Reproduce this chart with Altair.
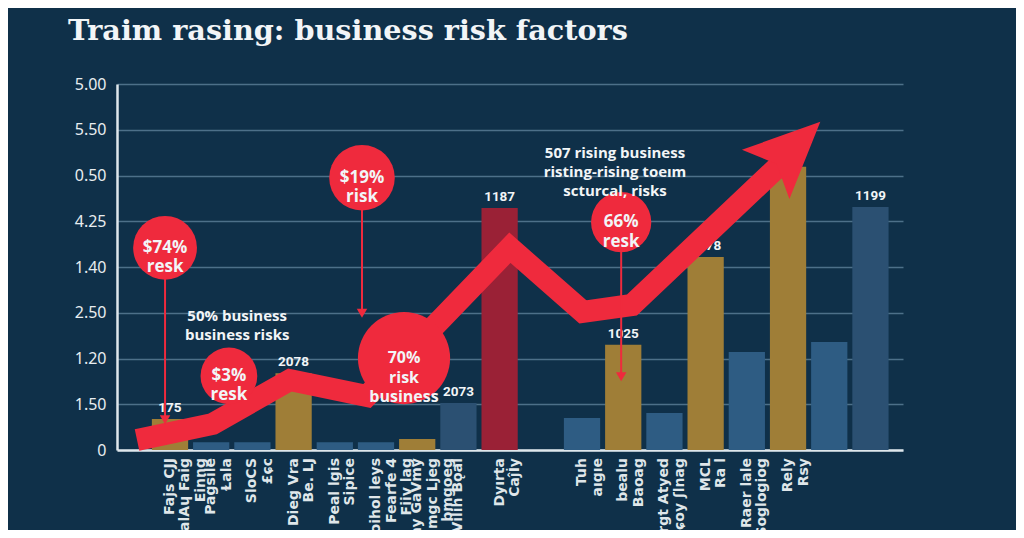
import json
import altair as alt
import pandas as pd

TITLE = "Traim rasing: business risk factors"

# y-axis tick labels, bottom to top, as printed on the chart
y_tick_labels = ["0", "1.50", "1.20", "2.50", "1.40", "4.25", "0.50", "5.50", "5.00"]

# bars: category slot along x, height (in gridline units), colour group, value label
bar_slot = [0, 1, 2, 3, 4, 5, 6, 7, 8, 10, 11, 12, 13, 14, 15, 16, 17]
bar_value = [0.68, 0.17, 0.17, 1.68, 0.17, 0.17, 0.24, 1.03, 5.29,
             0.70, 2.30, 0.81, 4.22, 2.14, 6.19, 2.36, 5.31]
bar_kind = ["gold", "blue", "blue", "gold", "blue", "blue", "gold", "navy", "red",
            "blue", "gold", "blue", "gold", "blue", "gold", "blue", "navy"]
bar_text = ["175", "", "", "2078", "", "", "", "2073", "1187",
            "", "1025", "", "1078", "", "", "", "1199"]

# category labels under the x axis
x_slot = [0, 1, 2, 3, 4, 5, 6, 7, 8, 10, 11, 12, 13, 14, 15]
x_label = [
    "Fajs CJJ\nBalAɥ Faig\nEinng",
    "Pagsile\nⱢala",
    "SloCS\n£ɕc",
    "Dieg Vra\nBe. LJ",
    "Peal lgis\nSipice",
    "Soihol leys\nFearfe 4\nFiiv lag",
    "Ɓay GaVmy\nEmgc Ljeg\nbmgoeg",
    "Vilih Bǫal",
    "Dyırta\nCaĵİy",
    "Tuh\naıgıe",
    "bealu\nBaoag",
    "Dorgt Atyed\nRɕoy ʃlnag",
    "MCL\nRa l",
    "Raer lale\nSoglogiog",
    "Rely\nRsy",
]

# rising red trend arrow
arrow_x = [-0.80, 1.04, 2.91, 4.78, 8.25, 10.02, 11.21, 15.00]
arrow_y = [0.22, 0.57, 1.53, 1.18, 4.42, 3.02, 3.17, 6.40]
head_x = [15.12]
head_y = [6.60]

# red callout bubbles
callout_text = ["$74%\nresk", "$19%\nrisk", "$3%\nresk", "70%\nrisk\nbusiness", "66%\nresk"]
callout_x = [-0.12, 4.66, 1.43, 5.68, 10.95]
callout_y = [4.42, 5.95, 1.62, 2.01, 4.98]

# pointer lines from bubbles
pointer_x = [-0.12, 4.66, 10.95]
pointer_from = [4.42, 5.95, 4.98]
pointer_to = [0.66, 2.99, 1.60]

# free text notes
note_text = ["50% business\nbusiness risks",
             "507 rising business\nristing-rising toeım\nscturcal, risks"]
note_x = [1.63, 10.80]
note_y = [2.93, 6.49]

# ---- styles ----
BG = "#0f3049"
RED = "#ef2a3d"
WHITE = "#f2f5f7"
bubble_radius_px = [36, 37, 32, 52, 34]
bubble_font_px = [17, 17, 17, 16, 17]

bars = pd.DataFrame({"slot": bar_slot, "value": bar_value, "kind": bar_kind, "label": bar_text})
xlabs = pd.DataFrame({"slot": x_slot, "label": x_label})
arrow = pd.DataFrame({"i": list(range(len(arrow_x))), "x": arrow_x, "y": arrow_y})
head = pd.DataFrame({"x": head_x, "y": head_y})
callouts = pd.DataFrame({"x": callout_x, "y": callout_y, "text": callout_text,
                         "area": [3.14159 * r * r for r in bubble_radius_px],
                         "fs": bubble_font_px})
pointers = pd.DataFrame({"x": pointer_x, "y": pointer_from, "y2": pointer_to})
notes = pd.DataFrame({"x": note_x, "y": note_y, "text": note_text})

xs = alt.Scale(domain=[-1.286, 17.79], nice=False, zero=False)
ys = alt.Scale(domain=[0, 8], nice=False, zero=False)

label_expr = json.dumps(y_tick_labels) + "[datum.value]"

XA = alt.Axis(labels=False, ticks=False, grid=False, domain=True,
              domainColor="#dfe7ec", domainWidth=2.5, title=None)
YA = alt.Axis(values=list(range(9)), labelExpr=label_expr,
              grid=True, gridColor="#4d7089", gridWidth=1.3,
              ticks=False, domain=True, domainColor="#dfe7ec",
              domainWidth=2.5, labelColor="#e8edf0",
              labelFont="Noto Sans", labelFontSize=16,
              labelPadding=11, title=None)


def X(field):
    return alt.X(field, scale=xs, axis=XA)


def Y(field):
    return alt.Y(field, scale=ys, axis=YA)


bar_layer = alt.Chart(bars).transform_calculate(
    x0="datum.slot - 0.44", x1="datum.slot + 0.44"
).mark_bar().encode(
    x=X("x0:Q"),
    x2="x1:Q",
    y=Y("value:Q"),
    y2=alt.datum(0),
    color=alt.Color("kind:N", scale=alt.Scale(domain=["gold", "blue", "navy", "red"],
                                              range=["#9f7e37", "#2e5c83", "#2b5072", "#9a2136"]),
                    legend=None),
)

bar_text_layer = alt.Chart(bars).mark_text(
    baseline="bottom", dy=-4, font="Roboto", fontSize=13.5, fontWeight="bold", color=WHITE
).encode(
    x=X("slot:Q"),
    y=Y("value:Q"),
    text="label:N",
)

xlab_layer = alt.Chart(xlabs).mark_text(
    angle=270, align="right", baseline="middle", dx=-8, lineBreak="\n",
    font="DejaVu Sans", fontSize=14, fontWeight="bold", lineHeight=15.5, color="#dfe6ea"
).encode(
    x=X("slot:Q"),
    y=alt.datum(0),
    text="label:N",
)

arrow_layer = alt.Chart(arrow).mark_line(
    color=RED, strokeWidth=22, strokeJoin="miter", strokeCap="butt"
).encode(
    x=X("x:Q"),
    y=Y("y:Q"),
    order="i:O",
)

head_layer = alt.Chart(head).mark_point(
    shape="M0,-1L0.9,1L0,0.6L-0.9,1Z", filled=True, opacity=1, color=RED,
    size=5776, angle=46, strokeWidth=0
).encode(
    x=X("x:Q"),
    y=Y("y:Q"),
)

pointer_layer = alt.Chart(pointers).mark_rule(color=RED, strokeWidth=2).encode(
    x=X("x:Q"),
    y=Y("y:Q"),
    y2="y2:Q",
)

pointer_tip_layer = alt.Chart(pointers).mark_point(
    shape="triangle-down", filled=True, opacity=1, color=RED, size=110, strokeWidth=0
).encode(
    x=X("x:Q"),
    y=Y("y2:Q"),
)

bubble_layer = alt.Chart(callouts).mark_point(
    shape="circle", filled=True, opacity=1, color=RED, strokeWidth=0
).encode(
    x=X("x:Q"),
    y=Y("y:Q"),
    size=alt.Size("area:Q", scale=None, legend=None),
)

bubble_text_layer = alt.Chart(callouts).mark_text(
    lineBreak="\n", baseline="middle", align="center", font="Open Sans",
    fontWeight="bold", lineHeight=19.5, color=WHITE
).encode(
    x=X("x:Q"),
    y=Y("y:Q"),
    text="text:N",
    size=alt.Size("fs:Q", scale=None, legend=None),
)

note_layer = alt.Chart(notes).mark_text(
    lineBreak="\n", baseline="middle", align="center", font="Open Sans",
    fontSize=15, fontWeight="bold", lineHeight=19, color=WHITE
).encode(
    x=X("x:Q"),
    y=Y("y:Q"),
    text="text:N",
)

chart = alt.layer(
    bar_layer, bar_text_layer, xlab_layer, arrow_layer, head_layer,
    pointer_layer, pointer_tip_layer, bubble_layer, bubble_text_layer, note_layer
).properties(
    width=786, height=366,
    autosize=alt.AutoSizeParams(type="none"),
    padding={"left": 109, "top": 76, "right": 113, "bottom": 80},
    background=BG,
    title=alt.TitleParams(
        text=TITLE, anchor="start", frame="group", font="DejaVu Serif",
        fontSize=28.7, fontWeight="bold", color=WHITE, dx=-49, offset=7,
        baseline="alphabetic"
    ),
).configure_view(stroke=None)

chart.save("out.html", embed_options={"renderer": "svg", "actions": False})
